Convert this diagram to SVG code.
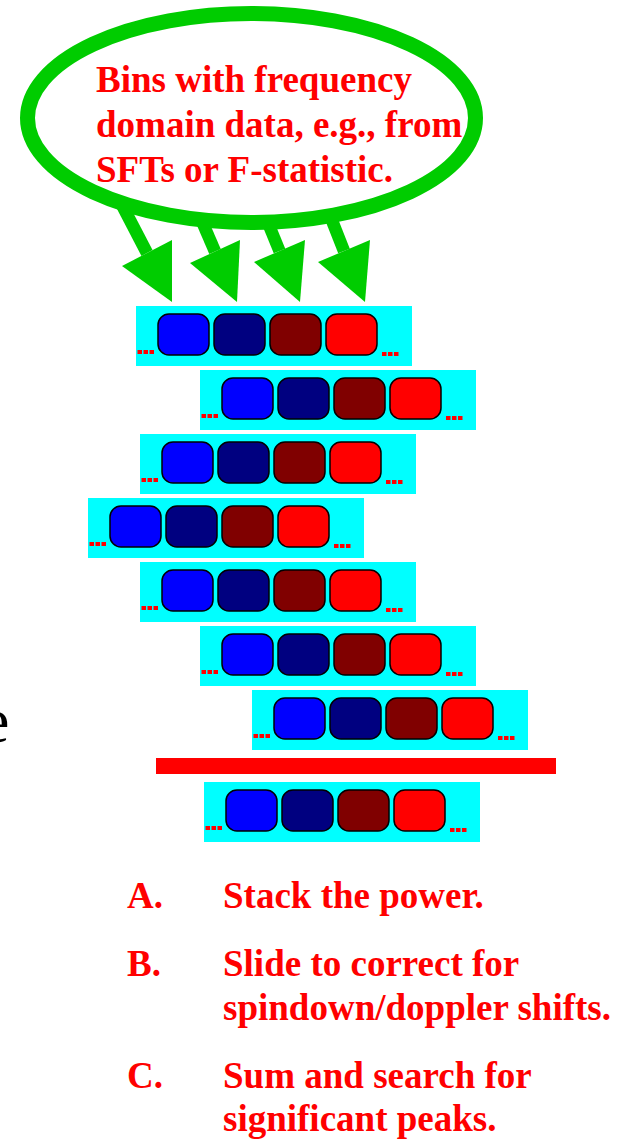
<svg xmlns="http://www.w3.org/2000/svg" xmlns:xlink="http://www.w3.org/1999/xlink" width="631" height="1139" viewBox="0 0 631 1139">
<style>
.t{font-family:"Liberation Serif","Times New Roman",serif;font-weight:bold;font-size:37px;fill:#FF0000}
.bg{fill:#00FFFF}
.bin{stroke:#000;stroke-width:1.5}
.dot{fill:#FF0000}
.shaft{stroke:#00CC00;stroke-width:12.5;fill:none}
.head{fill:#00CC00}
</style>
<defs>
<g id="row">
<rect class="bg" x="0" y="0" width="276" height="60"/>
<rect class="bin" x="22" y="8" width="51" height="41" rx="11" fill="#0000FF"/>
<rect class="bin" x="78" y="8" width="51" height="41" rx="11" fill="#000080"/>
<rect class="bin" x="134" y="8" width="51" height="41" rx="11" fill="#800000"/>
<rect class="bin" x="190" y="8" width="51" height="41" rx="11" fill="#FF0000"/>
<rect class="dot" x="1.5" y="44" width="4.5" height="4"/>
<rect class="dot" x="7.5" y="44" width="4.5" height="4"/>
<rect class="dot" x="13.5" y="44" width="4.5" height="4"/>
<rect class="dot" x="246" y="46" width="4.5" height="4"/>
<rect class="dot" x="252" y="46" width="4.5" height="4"/>
<rect class="dot" x="258" y="46" width="4.5" height="4"/>
</g>
</defs>
<rect width="631" height="1139" fill="#FFFFFF"/>
<g id="connectors">
<line class="shaft" x1="121" y1="203" x2="147" y2="253"/>
<polygon class="head" points="122,266 172,240 172,302"/>
<line class="shaft" x1="201" y1="219" x2="215" y2="251.5"/>
<polygon class="head" points="190,263 240,240 237,302"/>
<line class="shaft" x1="266" y1="218" x2="279.5" y2="251"/>
<polygon class="head" points="254,262 305,240 300,302"/>
<line class="shaft" x1="331" y1="218" x2="344" y2="251"/>
<polygon class="head" points="318,262 370,240 365,302"/>
</g>
<g id="source">
<ellipse cx="251.5" cy="118" rx="224" ry="104.5" fill="none" stroke="#00CC00" stroke-width="15"/>
<text class="t" x="96" y="92">Bins with frequency</text>
<text class="t" x="96" y="137">domain data, e.g., from</text>
<text class="t" x="96" y="182">SFTs or F-statistic.</text>
</g>
<g id="row1"><use xlink:href="#row" x="136" y="306"/></g>
<g id="row2"><use xlink:href="#row" x="200" y="370"/></g>
<g id="row3"><use xlink:href="#row" x="140" y="434"/></g>
<g id="row4"><use xlink:href="#row" x="88" y="498"/></g>
<g id="row5"><use xlink:href="#row" x="140" y="562"/></g>
<g id="row6"><use xlink:href="#row" x="200" y="626"/></g>
<g id="row7"><use xlink:href="#row" x="252" y="690"/></g>
<g id="sumbar"><rect x="156" y="758" width="400" height="16" fill="#FF0000"/></g>
<g id="sumrow"><use xlink:href="#row" x="204" y="782"/></g>
<text x="-19" y="742" font-family="Liberation Serif, Times New Roman, serif" font-size="64" fill="#000000">e</text>
<g id="steps">
<text class="t" x="127" y="908">A.</text>
<text class="t" x="223" y="908">Stack the power.</text>
<text class="t" x="127" y="976">B.</text>
<text class="t" x="223" y="976">Slide to correct for</text>
<text class="t" x="223" y="1020">spindown/doppler shifts.</text>
<text class="t" x="127" y="1088">C.</text>
<text class="t" x="223" y="1088">Sum and search for</text>
<text class="t" x="223" y="1131">significant peaks.</text>
</g>
</svg>
